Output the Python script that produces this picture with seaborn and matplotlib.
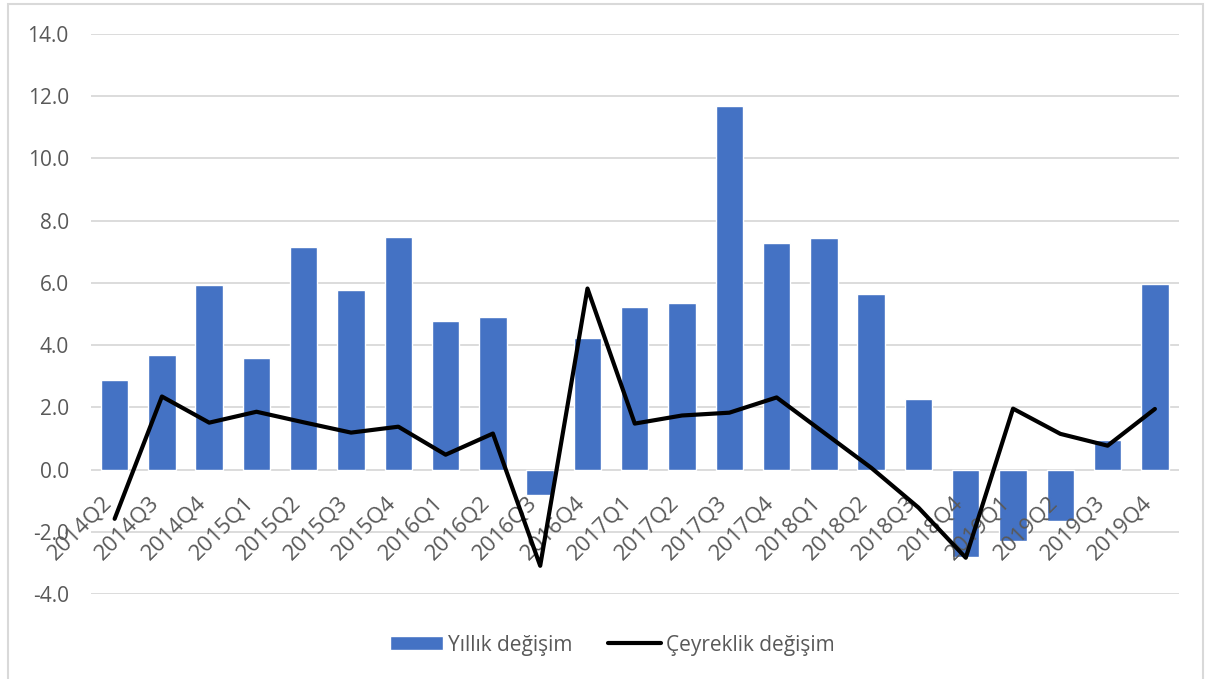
import numpy as np
import pandas as pd
import matplotlib
matplotlib.use("Agg")
import matplotlib.pyplot as plt
import matplotlib.transforms as mtransforms
import seaborn as sns

ceyrekler = ["2014Q2", "2014Q3", "2014Q4", "2015Q1", "2015Q2", "2015Q3", "2015Q4",
             "2016Q1", "2016Q2", "2016Q3", "2016Q4", "2017Q1", "2017Q2", "2017Q3",
             "2017Q4", "2018Q1", "2018Q2", "2018Q3", "2018Q4", "2019Q1", "2019Q2",
             "2019Q3", "2019Q4"]
yillik = [2.89, 3.67, 5.92, 3.60, 7.17, 5.76, 7.49, 4.79, 4.92, -0.80, 4.24, 5.24,
          5.34, 11.67, 7.27, 7.43, 5.63, 2.28, -2.80, -2.28, -1.64, 0.96, 5.95]
ceyreklik = [-1.58, 2.35, 1.51, 1.86, 1.52, 1.19, 1.38, 0.48, 1.16, -3.09, 5.82, 1.48,
             1.74, 1.83, 2.32, 1.19, 0.06, -1.22, -2.83, 1.96, 1.15, 0.77, 1.95]
y_ticks = [-4, -2, 0, 2, 4, 6, 8, 10, 12, 14]

df = pd.DataFrame({"Ceyrek": ceyrekler, "Yillik": yillik, "Ceyreklik": ceyreklik})
df["pos"] = np.arange(len(df))

sns.set_style("white")
plt.rcParams["font.family"] = ["Open Sans", "DejaVu Sans"]
grey = "#595959"

fig = plt.figure(figsize=(12.1, 6.79), dpi=100)
ax = fig.add_axes([0.0752, 0.125, 0.974 - 0.0752, 0.825])

sns.barplot(data=df, x="Ceyrek", y="Yillik", color="#4472C4", width=0.58,
            saturation=1, label="Yıllık değişim", ax=ax, zorder=2)
sns.lineplot(data=df, x="pos", y="Ceyreklik", color="black", linewidth=3.0,
             label="Çeyreklik değişim", ax=ax, zorder=3, solid_capstyle="round")

ax.set_xlim(-0.5, len(ceyrekler) - 0.5)
ax.set_ylim(-4, 14)
ax.set_yticks(y_ticks)
ax.set_yticklabels([f"{v:.1f}" for v in y_ticks], fontsize=15, color=grey)
ax.yaxis.grid(True, color="#d9d9d9", linewidth=1.3)
ax.set_axisbelow(True)
ax.set_xlabel("")
ax.set_ylabel("")
ax.tick_params(axis="y", length=0, pad=16)
ax.set_xticks([])
for s in ["bottom", "top", "left", "right"]:
    ax.spines[s].set_visible(False)

# çeyrek etiketleri sıfır çizgisinin altında, 45 derece
ofs = mtransforms.ScaledTranslation(-0.06, -0.30, fig.dpi_scale_trans)
for i, c in enumerate(ceyrekler):
    ax.text(i, 0, c, transform=ax.transData + ofs, rotation=45, ha="right",
            va="center", rotation_mode="anchor", fontsize=16, color=grey, zorder=2.5)

h, l = ax.get_legend_handles_labels()
order = [l.index("Yıllık değişim"), l.index("Çeyreklik değişim")]
leg = ax.legend([h[k] for k in order], [l[k] for k in order], loc="center",
                bbox_to_anchor=(0.506, 0.05), bbox_transform=fig.transFigure,
                ncol=2, frameon=False, fontsize=15, handlelength=2.55, handleheight=0.68,
                handletextpad=0.25, columnspacing=1.7)
for t in leg.get_texts():
    t.set_color(grey)

fig.patches.append(plt.Rectangle((0.007, -0.01), 0.987, 1.004, transform=fig.transFigure,
                                 fill=False, edgecolor="#d9d9d9", linewidth=1.5))

fig.savefig("out.png", dpi=100)
